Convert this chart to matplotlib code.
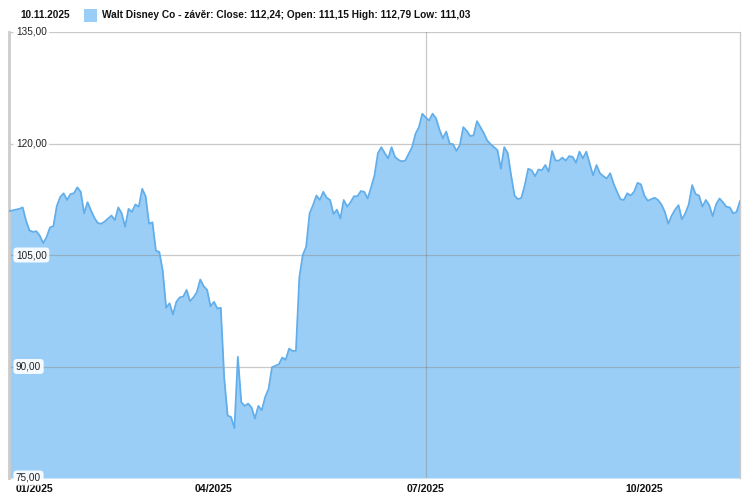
import numpy as np
import pandas as pd
import matplotlib
matplotlib.use("Agg")
import matplotlib.pyplot as plt

# denni zaviraci ceny Walt Disney Co (obchodni dny 2.1.2025 - 10.11.2025)
close = [
    110.9, 111.0, 111.1, 111.2, 111.4, 109.6, 108.3, 108.1, 108.2, 107.6,
    106.6, 107.4, 108.7, 108.9, 111.6, 112.8, 113.3, 112.4, 113.2, 113.3,
    114.1, 113.5, 110.6, 112.1, 111.0, 110.0, 109.3, 109.2, 109.5, 109.9,
    110.3, 109.7, 111.4, 110.6, 108.8, 111.2, 110.8, 111.8, 111.5, 113.9,
    112.9, 109.2, 109.4, 105.6, 105.4, 102.9, 97.9, 98.5, 97.0, 98.7,
    99.3, 99.4, 100.3, 98.8, 99.3, 100.0, 101.7, 100.8, 100.3, 98.1,
    98.7, 97.8, 97.9, 88.5, 83.4, 83.2, 81.7, 91.3, 85.2, 84.7,
    85.0, 84.5, 83.0, 84.7, 84.1, 85.9, 87.0, 89.9, 90.1, 90.3,
    91.2, 90.9, 92.4, 92.1, 92.1, 102.0, 105.0, 106.1, 110.6, 111.7,
    113.0, 112.4, 113.5, 112.7, 112.4, 110.5, 111.1, 109.9, 112.4, 111.5,
    112.1, 112.9, 112.9, 113.6, 113.5, 112.6, 114.1, 115.7, 118.7, 119.5,
    118.7, 118.0, 119.5, 118.2, 117.8, 117.6, 117.7, 118.6, 119.5, 121.3,
    122.2, 124.0, 123.5, 123.1, 124.0, 123.4, 121.9, 120.7, 121.6, 120.0,
    119.9, 119.0, 119.8, 122.2, 121.7, 121.0, 121.1, 123.0, 122.2, 121.4,
    120.4, 119.9, 119.5, 119.1, 116.6, 119.5, 118.7, 115.7, 113.0, 112.5,
    112.7, 114.4, 116.6, 116.4, 115.6, 116.5, 116.4, 117.1, 116.2, 119.0,
    117.7, 117.7, 118.1, 117.7, 118.3, 118.2, 117.4, 118.9, 118.0, 118.9,
    117.3, 115.7, 117.1, 116.0, 115.6, 115.3, 116.0, 114.6, 113.5, 112.5,
    112.4, 113.3, 113.0, 113.5, 114.7, 114.5, 113.0, 112.3, 112.5, 112.7,
    112.4, 111.8, 110.8, 109.2, 110.3, 111.1, 111.7, 109.8, 110.6, 111.8,
    114.4, 113.2, 113.0, 111.5, 112.4, 111.7, 110.2, 111.8, 112.6, 112.1,
    111.5, 111.4, 110.6, 110.8, 112.24,
]

# burzovni svatky NYSE 2025 (do 10.11.)
holidays = ["2025-01-09", "2025-01-20", "2025-02-17", "2025-04-18",
            "2025-05-26", "2025-06-19", "2025-07-04", "2025-09-01"]
dates = pd.bdate_range("2025-01-02", "2025-11-10", freq="C", holidays=holidays)

y_ticks = [75, 90, 105, 120, 135]
tick_months = [1, 4, 7, 10]
last_date = "10.11.2025"
legend_text = "Walt Disney Co - závěr: Close: 112,24; Open: 111,15 High: 112,79 Low: 111,03"

fill_col = "#9bcef6"
line_col = "#62aeea"

plt.rcParams["font.family"] = ["Liberation Sans", "DejaVu Sans"]

x = np.arange(len(close))

fig = plt.figure(figsize=(7.47, 4.97), dpi=100)
ax = fig.add_axes([9 / 747, 1 - 478 / 497, 731 / 747, 446 / 497])

ax.fill_between(x, close, y_ticks[0], color=fill_col, lw=0, zorder=1)
ax.plot(x, close, color=line_col, lw=1.3, zorder=3)

ax.set_xlim(0, len(close) - 1)
ax.set_ylim(y_ticks[0], y_ticks[-1])

# vodorovna mrizka
for v in y_ticks[1:]:
    ax.axhline(v, color="#888888", alpha=0.45, lw=0.9, zorder=2)

# indexy prvnich obchodnich dnu v mesicich
month_idx = []
for m in tick_months:
    pos = np.where(dates.month == m)[0]
    if len(pos):
        month_idx.append(pos[0])

# svisla cara u 07/2025
for i in month_idx:
    if dates[i].month == 7:
        ax.axvline(i, color="#888888", alpha=0.45, lw=0.9, zorder=2)

for s in ["top", "bottom"]:
    ax.spines[s].set_visible(False)
ax.spines["left"].set_color("#cccccc")
ax.spines["left"].set_linewidth(2)
ax.spines["right"].set_color("#cccccc")
ax.spines["right"].set_linewidth(1)

ax.set_yticks([])
ax.set_xticks([])

# popisky osy y uvnitr grafu
for v in y_ticks:
    ax.text(0.0095, v, ("%.2f" % v).replace(".", ","),
            transform=ax.get_yaxis_transform(), ha="left", va="center",
            fontsize=7.2, color="#222222", zorder=5,
            bbox=dict(boxstyle="round,pad=0.25,rounding_size=0.35",
                      fc="white", ec="none", alpha=0.9))

# popisky osy x
xlabels = []
for k, i in enumerate(month_idx):
    t = ax.text(i, -0.014, dates[i].strftime("%m/%Y"),
                transform=ax.get_xaxis_transform(),
                ha="left" if k == 0 else "center", va="top",
                fontsize=7.6, fontweight="bold", color="#111111")
    xlabels.append(t)
xlabels[0].set_x(1.8)

# zahlavi s legendou
fig.text(20 / 747, 1 - 15 / 497, last_date, ha="left", va="center",
         fontsize=7.2, fontweight="bold", color="#111111")
fig.patches.append(plt.Rectangle((84 / 747, 1 - 22 / 497), 13 / 747, 13 / 497,
                                 transform=fig.transFigure, fc=fill_col,
                                 ec="none", figure=fig))
fig.text(102 / 747, 1 - 15 / 497, legend_text, ha="left", va="center",
         fontsize=7.25, fontweight="bold", color="#111111")

fig.savefig("out.png", dpi=100)
